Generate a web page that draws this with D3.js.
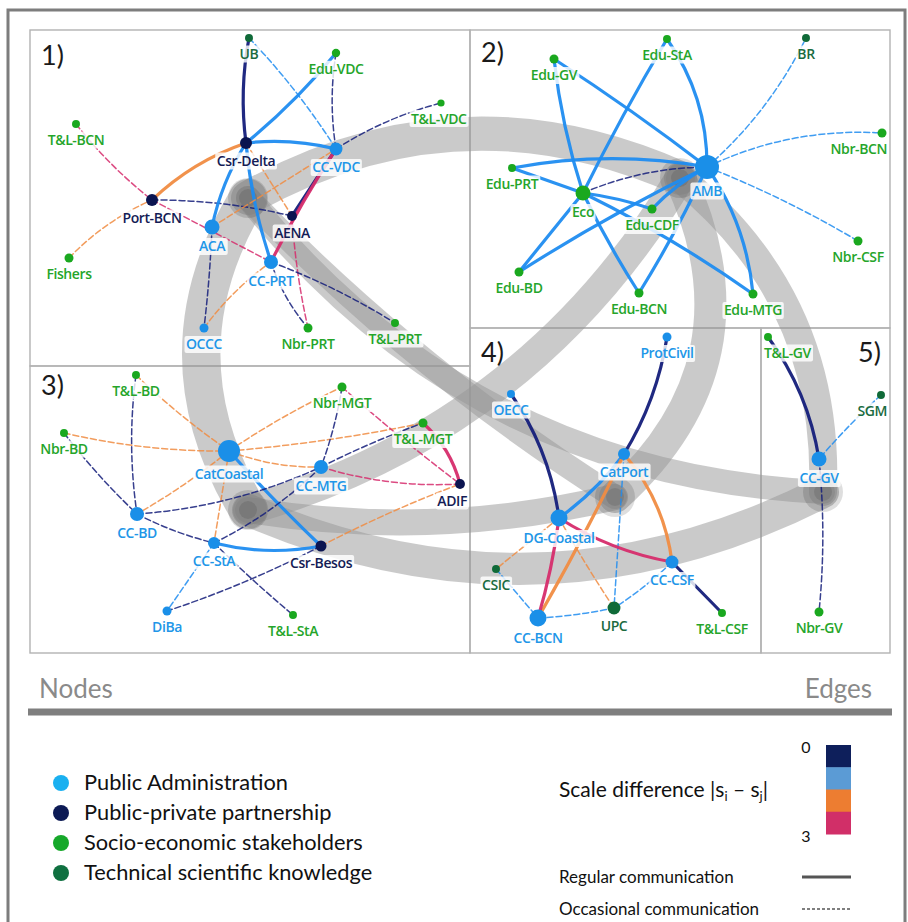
<!DOCTYPE html>
<html><head><meta charset="utf-8">
<script src="https://cdn.jsdelivr.net/npm/d3@7"></script>
<style>
html,body{margin:0;padding:0;background:#fff;}
svg{display:block;}
</style></head>
<body>
<svg id="chart" width="908" height="922"></svg>
<script>
// ---------------- DATA ----------------
const categoryKeys = ["A","P","S","T"];
const categoryNames = ["Public Administration","Public-private partnership","Socio-economic stakeholders","Technical scientific knowledge"];
const panelLabels = ["1)","2)","3)","4)","5)"];
// panel boxes in layout units [x0,y0,x1,y1]
const panelBoxes = [[0,0,440,336],[440,0,860,298],[0,336,440,623],[440,298,731,623],[731,298,860,623]];
// nodes: [id, category, panel, x, y, importance]
const nodes = [
  ["UB","T",1,219,8,11],["Edu-VDC","S",1,306,23,12],["T&L-VDC","S",1,411,73,9],["T&L-BCN","S",1,46,94,11],
  ["Csr-Delta","P",1,216,113,25],["CC-VDC","A",1,306,119,29],["Port-BCN","P",1,122,170,25],["AENA","P",1,262,186,17],
  ["ACA","A",1,182,197,39],["Fishers","S",1,39,228,14],["CC-PRT","A",1,241,232,34],["OCCC","A",1,174,298,14],
  ["Nbr-PRT","S",1,278,298,14],["T&L-PRT","S",1,365,293,11],
  ["Edu-StA","S",2,637,9,11],["BR","T",2,776,8,11],["Edu-GV","S",2,524,29,14],["Nbr-BCN","S",2,852,103,14],
  ["Edu-PRT","S",2,482,138,11],["AMB","A",2,677,137,100],["Eco","S",2,553,163,39],["Edu-CDF","S",2,622,179,14],
  ["Nbr-CSF","S",2,828,211,14],["Edu-BD","S",2,489,242,14],["Edu-BCN","S",2,609,263,14],["Edu-MTG","S",2,723,264,14],
  ["T&L-BD","S",3,106,345,11],["Nbr-MGT","S",3,312,357,14],["T&L-MGT","S",3,393,393,14],["Nbr-BD","S",3,34,403,11],
  ["CatCoastal","A",3,199,421,84],["CC-MTG","A",3,291,437,34],["ADIF","P",3,430,454,17],["CC-BD","A",3,107,484,34],
  ["CC-StA","A",3,184,513,25],["Csr-Besos","P",3,291,516,21],["DiBa","A",3,137,581,14],["T&L-StA","S",3,263,585,11],
  ["ProtCivil","A",4,637,307,14],["OECC","A",4,481,364,11],["CatPort","A",4,594,424,25],["DG-Coastal","A",4,529,488,50],
  ["CC-CSF","A",4,642,532,29],["CSIC","T",4,466,539,11],["UPC","T",4,584,578,29],["T&L-CSF","S",4,692,583,11],
  ["CC-BCN","A",4,508,588,50],
  ["T&L-GV","S",5,738,307,11],["SGM","T",5,851,365,11],["CC-GV","A",5,789,429,39],["Nbr-GV","S",5,789,582,14]
];
// cluster hubs: [panel, x, y]
const hubs = [[1,218,168],[2,650,148],[3,218,480],[4,585,467],[5,793,462]];
// links between clusters: [from, to, weight, bend]
const clusterLinks = [
  [1,2,34,-0.25],[1,3,38,0.30],[1,5,24,0.226],[1,4,24,0.06],
  [2,3,30,-0.197],[2,4,32,-0.366],[2,5,28,-0.25],[3,4,26,0.10],[3,5,32,0.235]
];
// edges: [source, target, scale difference, type (R regular / O occasional), bend]
const edges = [
  ["UB","Csr-Delta",0,"R",0.08],["UB","CC-VDC",1,"O",-0.05],["Edu-VDC","Csr-Delta",1,"R",-0.05],
  ["Edu-VDC","CC-VDC",0,"O",0.08],["Csr-Delta","CC-VDC",1,"R",-0.09],["CC-VDC","T&L-VDC",0,"O",-0.08],
  ["Port-BCN","Csr-Delta",2,"R",-0.11],["T&L-BCN","Port-BCN",3,"O",0.06],["Fishers","Port-BCN",2,"O",-0.1],
  ["Port-BCN","AENA",0,"O",-0.06],["Port-BCN","CC-PRT",3,"O",0],["ACA","Csr-Delta",1,"R",-0.09],
  ["CC-PRT","Csr-Delta",1,"R",-0.06],["ACA","CC-VDC",2,"O",0],["ACA","OCCC",0,"O",-0.02],
  ["OCCC","CC-PRT",2,"O",-0.08],["CC-VDC","AENA",0,"R",0],["CC-VDC","CC-PRT",3,"R",0.03],
  ["Csr-Delta","AENA",2,"O",0],["AENA","Nbr-PRT",3,"O",0.04],["CC-PRT","Nbr-PRT",0,"O",0.1],
  ["CC-PRT","T&L-PRT",0,"O",-0.05],
  ["Edu-GV","AMB",1,"R",-0.02],["Edu-GV","Eco",1,"R",0.05],["Edu-StA","Eco",1,"R",0.02],
  ["Edu-StA","AMB",1,"R",-0.16],["Edu-PRT","AMB",1,"R",-0.09],["Edu-PRT","Eco",1,"R",0],
  ["Eco","Edu-CDF",1,"R",-0.05],["Eco","Edu-MTG",1,"R",-0.04],["Eco","Edu-BCN",1,"R",0.03],
  ["Eco","Edu-BD",1,"R",0],["AMB","Edu-BD",1,"R",0.03],["AMB","Edu-CDF",1,"R",0.08],
  ["AMB","Edu-BCN",1,"R",-0.03],["AMB","Edu-MTG",1,"R",-0.13],["Eco","AMB",0,"O",-0.1],
  ["AMB","BR",1,"O",0.1],["AMB","Nbr-BCN",1,"O",-0.13],["AMB","Nbr-CSF",1,"O",-0.04],
  ["T&L-BD","CC-BD",0,"O",0.07],["T&L-BD","CatCoastal",2,"O",0.04],["Nbr-BD","CatCoastal",2,"O",0.06],
  ["Nbr-BD","CC-BD",0,"O",0.04],["CatCoastal","Nbr-MGT",2,"O",-0.04],["CatCoastal","T&L-MGT",2,"O",0.03],
  ["CatCoastal","CC-MTG",2,"O",0.1],["CatCoastal","CC-BD",2,"O",-0.04],["CatCoastal","CC-StA",2,"O",0],
  ["CatCoastal","Csr-Besos",1,"R",0.02],["Nbr-MGT","CC-MTG",0,"O",-0.05],["Nbr-MGT","ADIF",3,"O",0.02],
  ["T&L-MGT","ADIF",3,"R",-0.15],["CC-BD","CC-MTG",0,"O",0.09],["CC-MTG","T&L-MGT",0,"O",-0.03],
  ["CC-MTG","ADIF",3,"O",0.09],["CC-MTG","CC-StA",0,"O",-0.08],["CC-BD","CC-StA",0,"O",0.06],
  ["CC-StA","Csr-Besos",1,"R",0.11],["CC-StA","DiBa",1,"O",0],["CC-StA","T&L-StA",0,"O",0.02],
  ["Csr-Besos","DiBa",0,"O",-0.04],["Csr-Besos","ADIF",2,"O",-0.03],
  ["ProtCivil","CatPort",0,"R",-0.1],["OECC","DG-Coastal",0,"R",-0.12],["CatPort","DG-Coastal",1,"R",-0.08],
  ["CatPort","CC-BCN",2,"R",-0.02],["CatPort","CC-CSF",2,"R",-0.15],["CatPort","UPC",1,"O",0],
  ["DG-Coastal","CC-CSF",3,"R",0.1],["DG-Coastal","CC-BCN",3,"R",-0.04],["DG-Coastal","CSIC",2,"O",0],
  ["DG-Coastal","UPC",2,"O",0.02],["CC-CSF","T&L-CSF",0,"R",0],["CC-CSF","UPC",1,"O",-0.05],
  ["CC-BCN","UPC",1,"O",0.04],["CSIC","CC-BCN",1,"O",0],
  ["T&L-GV","CC-GV",0,"R",-0.12],["SGM","CC-GV",1,"O",0.03],["CC-GV","Nbr-GV",0,"O",-0.05]
];
const scaleDiffValues = [0,1,2,3];
const scaleTickLabels = ["0","3"];
const edgeTypeNames = ["Regular communication","Occasional communication"];

// ---------------- SCALES ----------------
const svg = d3.select("#chart");
const X = d3.scaleLinear().domain([0,860]).range([30,890]);
const Y = d3.scaleLinear().domain([0,623]).range([30,653]);
const R = d3.scaleSqrt().domain([0,100]).range([0,12]);
const nodeFill = d3.scaleOrdinal().domain(categoryKeys).range(["#1a8fe8","#0b1450","#1aa81f","#0f6a38"]);
const legendFill = d3.scaleOrdinal().domain(categoryKeys).range(["#1ab0f0","#0c1a55","#16a82a","#0f7040"]);
const labelFill = d3.scaleOrdinal().domain(categoryKeys).range(["#2196e8","#141c55","#25a52a","#1a6b3f"]);
const edgeStroke = d3.scaleOrdinal().domain(scaleDiffValues).range(["#141d7a","#1f8cf0","#f08c42","#d62c6c"]);
const barFill = d3.scaleOrdinal().domain(scaleDiffValues).range(["#0e1f5b","#5b9bd5","#ed7d31","#d12f68"]);
const bandW = d3.scaleLinear().domain([0,40]).range([0,40]);

const nodeById = new Map(nodes.map(d => [d[0], {id:d[0], cat:d[1], panel:d[2], x:X(d[3]), y:Y(d[4]), r:R(d[5])}]));
const hubById = new Map(hubs.map(d => [d[0], {x:X(d[1]), y:Y(d[2])}]));

function quadPath(x0,y0,x1,y1,bend){
  const mx=(x0+x1)/2, my=(y0+y1)/2, dx=x1-x0, dy=y1-y0;
  const cx=mx-bend*dy, cy=my+bend*dx;
  return `M${x0},${y0}Q${cx},${cy} ${x1},${y1}`;
}

// ---------------- FRAME ----------------
svg.append("rect").attr("x",8).attr("y",10).attr("width",897).attr("height",960)
  .attr("fill","none").attr("stroke","#7d7d7d").attr("stroke-width",3);

const panelG = svg.append("g");
panelG.selectAll("rect").data(panelBoxes).join("rect")
  .attr("x",d=>X(d[0])).attr("y",d=>Y(d[1]))
  .attr("width",d=>X(d[2])-X(d[0])).attr("height",d=>Y(d[3])-Y(d[1]))
  .attr("fill","none").attr("stroke","#b2b2b2").attr("stroke-width",1.4);

// ---------------- CLUSTER BANDS ----------------
const bandG = svg.append("g");
bandG.selectAll("path").data(clusterLinks).join("path")
  .attr("d",d=>{const a=hubById.get(d[0]), b=hubById.get(d[1]); return quadPath(a.x,a.y,b.x,b.y,d[3]);})
  .attr("fill","none").attr("stroke","rgb(150,150,150)").attr("stroke-opacity",0.5)
  .attr("stroke-width",d=>bandW(d[2])).attr("stroke-linecap","round");
bandG.selectAll("circle.hub").data(hubs).join("circle").attr("class","hub")
  .attr("cx",d=>X(d[1])).attr("cy",d=>Y(d[2])).attr("r",20)
  .attr("fill","#000").attr("fill-opacity",0.13);
bandG.selectAll("circle.core").data(hubs).join("circle").attr("class","core")
  .attr("cx",d=>X(d[1])).attr("cy",d=>Y(d[2])).attr("r",9)
  .attr("fill","#000").attr("fill-opacity",0.1);

// ---------------- PANEL LABELS ----------------
svg.append("g").selectAll("text").data(panelBoxes).join("text")
  .attr("x",(d,i)=> i===4 ? X(d[2])-32 : X(d[0])+11)
  .attr("y",(d,i)=> Y(d[1])+ (i===0?35:i===1?32:i===2?29:34))
  .attr("font-family","Lato, 'Open Sans', sans-serif").attr("font-size",27).attr("fill","#1a1a1a")
  .text((d,i)=>panelLabels[i]);

// ---------------- EDGES ----------------
svg.append("g").selectAll("path").data(edges).join("path")
  .attr("d",d=>{const a=nodeById.get(d[0]), b=nodeById.get(d[1]); return quadPath(a.x,a.y,b.x,b.y,d[4]);})
  .attr("fill","none").attr("stroke",d=>edgeStroke(d[2]))
  .attr("stroke-width",d=>d[3]==="R"?3.2:1.5)
  .attr("stroke-dasharray",d=>d[3]==="R"?null:"6,3")
  .attr("stroke-opacity",d=>d[3]==="R"?0.95:0.85)
  .attr("stroke-linecap","round");

// ---------------- NODES ----------------
const nodeList = Array.from(nodeById.values());
svg.append("g").selectAll("circle").data(nodeList).join("circle")
  .attr("cx",d=>d.x).attr("cy",d=>d.y).attr("r",d=>d.r).attr("fill",d=>nodeFill(d.cat));

// ---------------- NODE LABELS ----------------
const labG = svg.append("g");
nodeList.forEach(d=>{
  const g = labG.append("g");
  const rect = g.append("rect").attr("fill","#fff").attr("fill-opacity",0.82).attr("rx",2);
  const t = g.append("text").attr("x",d.x).attr("y",d.y+d.r+17).attr("text-anchor","middle")
    .attr("font-family","'Open Sans', sans-serif").attr("font-size",14).attr("font-weight",600)
    .attr("letter-spacing",-0.4)
    .attr("fill",labelFill(d.cat)).text(d.id);
  let bb = t.node().getBBox();
  const pb = panelBoxes[d.panel-1];
  const right = X(pb[2]) - 3, left = X(pb[0]) + 3;
  if (bb.x + bb.width > right) t.attr("x", d.x - (bb.x + bb.width - right));
  if (bb.x < left) t.attr("x", d.x + (left - bb.x));
  bb = t.node().getBBox();
  rect.attr("x",bb.x-1.5).attr("y",bb.y+1.5).attr("width",bb.width+3).attr("height",bb.height-2);
});

// ---------------- LEGEND ----------------
const lg = svg.append("g").attr("font-family","Lato, 'Open Sans', sans-serif");
lg.append("text").attr("x",39).attr("y",698).attr("font-size",26).attr("fill","#8a8a8a").text("Nodes");
lg.append("text").attr("x",872).attr("y",698).attr("text-anchor","end").attr("font-size",26).attr("fill","#8a8a8a").text("Edges");
lg.append("line").attr("x1",28).attr("x2",892).attr("y1",712).attr("y2",712).attr("stroke","#7f7f7f").attr("stroke-width",7);

const rowY = d3.scalePoint().domain(categoryKeys).range([783,873]);
const nodeLeg = lg.append("g").selectAll("g").data(categoryKeys).join("g");
nodeLeg.append("circle").attr("cx",61).attr("cy",d=>rowY(d)).attr("r",8).attr("fill",d=>legendFill(d));
nodeLeg.append("text").attr("x",84).attr("y",d=>rowY(d)+7).attr("font-size",21.8).attr("fill","#111")
  .text((d,i)=>categoryNames[i]);

const sd = lg.append("text").attr("x",559).attr("y",797).attr("font-size",21).attr("fill","#111");
sd.append("tspan").text("Scale difference |s");
sd.append("tspan").attr("font-size",13).attr("dy",4).text("i");
sd.append("tspan").attr("dy",-4).text(" \u2013 s");
sd.append("tspan").attr("font-size",13).attr("dy",4).text("j");
sd.append("tspan").attr("dy",-4).text("|");

const barY = d3.scaleBand().domain(scaleDiffValues).range([745,834]);
lg.append("g").selectAll("rect").data(scaleDiffValues).join("rect")
  .attr("x",826).attr("width",25).attr("y",d=>barY(d)).attr("height",barY.bandwidth()+0.5)
  .attr("fill",d=>barFill(d));
lg.append("text").attr("x",806).attr("y",753).attr("text-anchor","middle").attr("font-size",16).attr("fill","#111").text(scaleTickLabels[0]);
lg.append("text").attr("x",806).attr("y",842).attr("text-anchor","middle").attr("font-size",16).attr("fill","#111").text(scaleTickLabels[1]);

const typeY = d3.scalePoint().domain(edgeTypeNames).range([877,909]);
lg.append("g").selectAll("text").data(edgeTypeNames).join("text")
  .attr("x",559).attr("y",d=>typeY(d)+6).attr("font-size",17).attr("fill","#111").text(d=>d);
lg.append("g").selectAll("line").data(edgeTypeNames).join("line")
  .attr("x1",802).attr("x2",851).attr("y1",d=>typeY(d)).attr("y2",d=>typeY(d))
  .attr("stroke","#555").attr("stroke-width",(d,i)=>i===0?3:1.3)
  .attr("stroke-dasharray",(d,i)=>i===0?null:"3,2");
</script>
</body></html>
